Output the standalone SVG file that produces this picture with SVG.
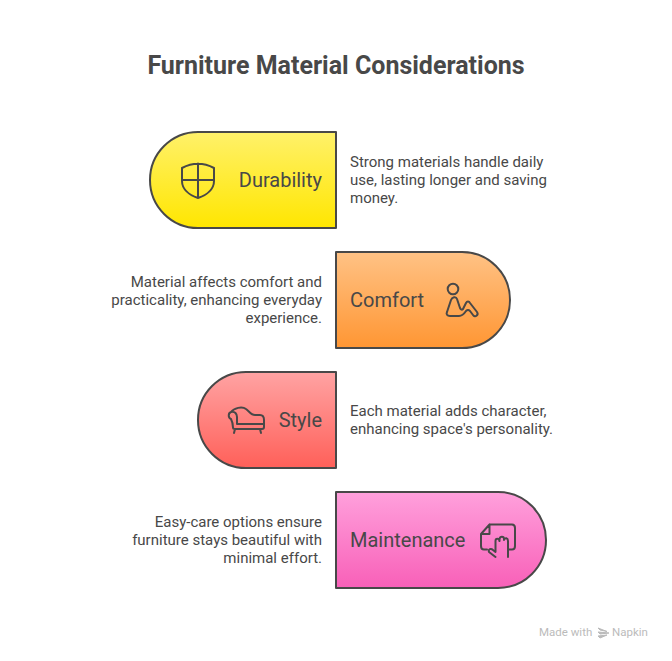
<svg xmlns="http://www.w3.org/2000/svg" width="672" height="661" viewBox="0 0 672 661">
<style>
text{font-family:Roboto,"Liberation Sans",sans-serif;fill:#484848}
.t{font-size:25px;font-weight:700}
.l{font-size:20px}
.d{font-size:15px}
.e{text-anchor:end}
.s{stroke:#484848;stroke-width:2;stroke-linejoin:round}
.i{fill:none;stroke:#484848;stroke-width:2;stroke-linecap:round;stroke-linejoin:round}
</style>
<defs>
<linearGradient id="y" x1="0" y1="0" x2="0" y2="1"><stop offset="0" stop-color="#fff16a"/><stop offset="1" stop-color="#ffe600"/></linearGradient>
<linearGradient id="o" x1="0" y1="0" x2="0" y2="1"><stop offset="0" stop-color="#ffc285"/><stop offset="1" stop-color="#ff9633"/></linearGradient>
<linearGradient id="r" x1="0" y1="0" x2="0" y2="1"><stop offset="0" stop-color="#ffa3a3"/><stop offset="1" stop-color="#ff6059"/></linearGradient>
<linearGradient id="p" x1="0" y1="0" x2="0" y2="1"><stop offset="0" stop-color="#ffa0dc"/><stop offset="1" stop-color="#f860b8"/></linearGradient>
</defs>
<rect width="672" height="661" fill="#fff"/>
<text class="t" x="336" y="74" text-anchor="middle">Furniture Material Considerations</text>
<g id="connectors"/>
<g id="durability">
<path class="s" fill="url(#y)" d="M336 132V228H198A48 48 0 0 1 198 132Z"/>
<path class="i" d="M182 168Q198 159.500 214 168V181C214 189 207 195 198 198C189 195 182 189 182 181ZM198 163.500V198M182 180H214"/>
<text class="l" x="322" y="187" text-anchor="end">Durability</text>
<text class="d" x="350" y="167">Strong materials handle daily</text>
<text class="d" x="350" y="185">use, lasting longer and saving</text>
<text class="d" x="350" y="203">money.</text>
</g>
<g id="comfort">
<path class="s" fill="url(#o)" d="M336 252V348H462A48 48 0 0 0 462 252Z"/>
<circle class="i" cx="453" cy="289" r="5.300"/>
<path class="i" d="M447 312L451 300C452 297 456 296 457 299L460 308C461 310 462 310 463 309L466 303C467 301 469 301 470 303L477 312C479 315 475 318 473 315L470 311C468 309 467 310 466 311C464 314 462 316 459 316H450C447 316 446 314 447 312Z"/>
<text class="l" x="350" y="307">Comfort</text>
<text class="d e" x="322" y="287">Material affects comfort and</text>
<text class="d e" x="322" y="305">practicality, enhancing everyday</text>
<text class="d e" x="322" y="323">experience.</text>
</g>
<g id="style">
<path class="s" fill="url(#r)" d="M336 372V468H246A48 48 0 0 1 246 372Z"/>
<path class="i" d="M233 427.500C233 423 232 421 231 419C228 418 228 413 231 412C234 408 242 406 246 409C249 411 251 415 255 415H260C263 415 264 417 264 420V427C264 428.500 263 429 262 429H235C234 429 233 428.500 233 427.500ZM231 412C235 411 237 414 237 417V424H264M235 429L234 433M260 429L261 433"/>
<text class="l" x="322" y="427" text-anchor="end">Style</text>
<text class="d" x="350" y="416">Each material adds character,</text>
<text class="d" x="350" y="434">enhancing space's personality.</text>
</g>
<g id="maintenance">
<path class="s" fill="url(#p)" d="M336 492V588H498A48 48 0 0 0 498 492Z"/>
<path class="i" d="M489.500 524.500H512C514 524.500 515 526 515 528V546C515 548.500 514 549.500 512 549.500H509M489.500 524.500L481 534V546C481 548.500 482 549.500 484 549.500H487M489.500 524.500V534H481M495.500 557L489 552C488 549 491 548 493 550L495.500 552V541C495.500 538 499 538 499.500 541V539C500 536 504 536 504 539V540C505 537 508 538 508 541V557"/>
<text class="l" x="350" y="547">Maintenance</text>
<text class="d e" x="322" y="527">Easy-care options ensure</text>
<text class="d e" x="322" y="545">furniture stays beautiful with</text>
<text class="d e" x="322" y="563">minimal effort.</text>
</g>
<g id="footer" opacity="0.5">
<text x="539" y="636" style="font-size:11.500px;fill:#777">Made with</text>
<path d="M598 628L607 631.500L600 630ZM598 632L609 633L600 634ZM598 636L607 635L600 638Z" fill="#777" stroke="#777"/>
<text x="612" y="636" style="font-size:11.500px;fill:#777">Napkin</text>
</g>
</svg>
